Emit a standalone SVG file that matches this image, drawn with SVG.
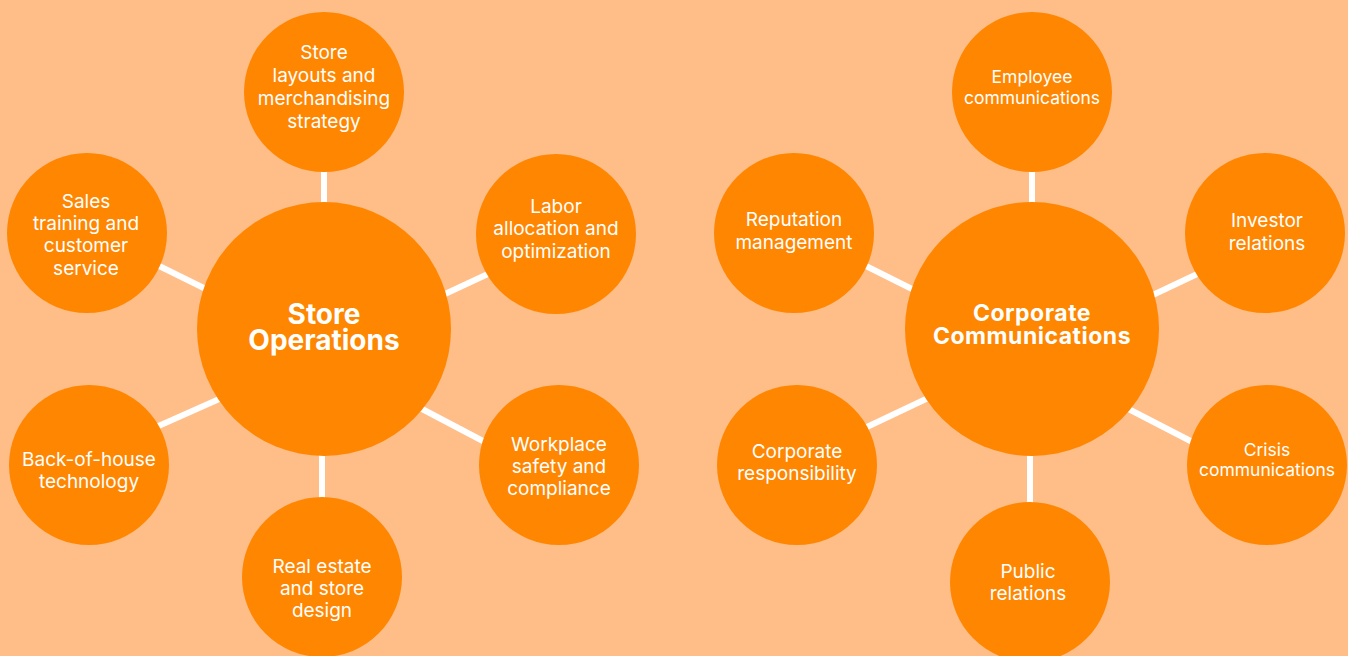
<svg xmlns="http://www.w3.org/2000/svg" width="1348" height="656" viewBox="0 0 1348 656">
<style>
.bg{fill:#FFBD88}
.c{fill:#FF8600}
.t{font-family:Inter,"Liberation Sans",sans-serif;font-size:19px;fill:#fff;text-anchor:middle}
.s{font-size:17.5px}
.h{font-family:Inter,"Liberation Sans",sans-serif;font-weight:700;fill:#fff;text-anchor:middle}
.ln{stroke:#fff;stroke-width:6;fill:none}
</style>
<rect class="bg" x="0" y="0" width="1348" height="656"/>
<g id="connectors">
<line class="ln" x1="324" y1="160" x2="324" y2="215"/>
<line class="ln" x1="430" y1="301" x2="505" y2="266"/>
<line class="ln" x1="405" y1="400" x2="500" y2="450"/>
<line class="ln" x1="322" y1="440" x2="322" y2="510"/>
<line class="ln" x1="145" y1="432" x2="235" y2="392"/>
<line class="ln" x1="145" y1="259" x2="220" y2="296"/>
<line class="ln" x1="1032" y1="160" x2="1032" y2="215"/>
<line class="ln" x1="1138" y1="302" x2="1212" y2="267"/>
<line class="ln" x1="1113" y1="401" x2="1208" y2="450"/>
<line class="ln" x1="1030" y1="440" x2="1030" y2="515"/>
<line class="ln" x1="850" y1="435" x2="945" y2="390"/>
<line class="ln" x1="850" y1="258" x2="930" y2="298"/>
</g>
<g id="store-operations">
<circle class="c" cx="324" cy="329" r="127"/>
<text class="h" font-size="28"><tspan x="324" y="324">Store</tspan><tspan x="324" y="350">Operations</tspan></text>
</g>
<g id="store-layouts">
<circle class="c" cx="324" cy="92" r="80"/>
<text class="t"><tspan x="324" y="59">Store</tspan><tspan x="324" y="82">layouts and</tspan><tspan x="324" y="105">merchandising</tspan><tspan x="324" y="128">strategy</tspan></text>
</g>
<g id="labor">
<circle class="c" cx="556" cy="234" r="80"/>
<text class="t"><tspan x="556" y="213">Labor</tspan><tspan x="556" y="235">allocation and</tspan><tspan x="556" y="258">optimization</tspan></text>
</g>
<g id="workplace">
<circle class="c" cx="559" cy="465" r="80"/>
<text class="t"><tspan x="559" y="451">Workplace</tspan><tspan x="559" y="473">safety and</tspan><tspan x="559" y="495">compliance</tspan></text>
</g>
<g id="real-estate">
<circle class="c" cx="322" cy="577" r="80"/>
<text class="t"><tspan x="322" y="573">Real estate</tspan><tspan x="322" y="595">and store</tspan><tspan x="322" y="617">design</tspan></text>
</g>
<g id="back-of-house">
<circle class="c" cx="89" cy="465" r="80"/>
<text class="t"><tspan x="89" y="466">Back-of-house</tspan><tspan x="89" y="488">technology</tspan></text>
</g>
<g id="sales">
<circle class="c" cx="87" cy="233" r="80"/>
<text class="t"><tspan x="86" y="208">Sales</tspan><tspan x="86" y="230">training and</tspan><tspan x="86" y="252">customer</tspan><tspan x="86" y="275">service</tspan></text>
</g>
<g id="corporate-communications">
<circle class="c" cx="1032" cy="329" r="127"/>
<text class="h" font-size="23" letter-spacing="0.5"><tspan x="1032" y="321">Corporate</tspan><tspan x="1032" y="344">Communications</tspan></text>
</g>
<g id="employee">
<circle class="c" cx="1032" cy="92" r="80"/>
<text class="t s"><tspan x="1032" y="83">Employee</tspan><tspan x="1032" y="104">communications</tspan></text>
</g>
<g id="investor">
<circle class="c" cx="1265" cy="233" r="80"/>
<text class="t"><tspan x="1267" y="227">Investor</tspan><tspan x="1267" y="250">relations</tspan></text>
</g>
<g id="crisis">
<circle class="c" cx="1267" cy="465" r="80"/>
<text class="t s"><tspan x="1267" y="456">Crisis</tspan><tspan x="1267" y="476">communications</tspan></text>
</g>
<g id="public-relations">
<circle class="c" cx="1030" cy="582" r="80"/>
<text class="t"><tspan x="1028" y="578">Public</tspan><tspan x="1028" y="600">relations</tspan></text>
</g>
<g id="corporate-responsibility">
<circle class="c" cx="797" cy="465" r="80"/>
<text class="t"><tspan x="797" y="458">Corporate</tspan><tspan x="797" y="480">responsibility</tspan></text>
</g>
<g id="reputation">
<circle class="c" cx="794" cy="233" r="80"/>
<text class="t"><tspan x="794" y="226">Reputation</tspan><tspan x="794" y="249">management</tspan></text>
</g>
</svg>
